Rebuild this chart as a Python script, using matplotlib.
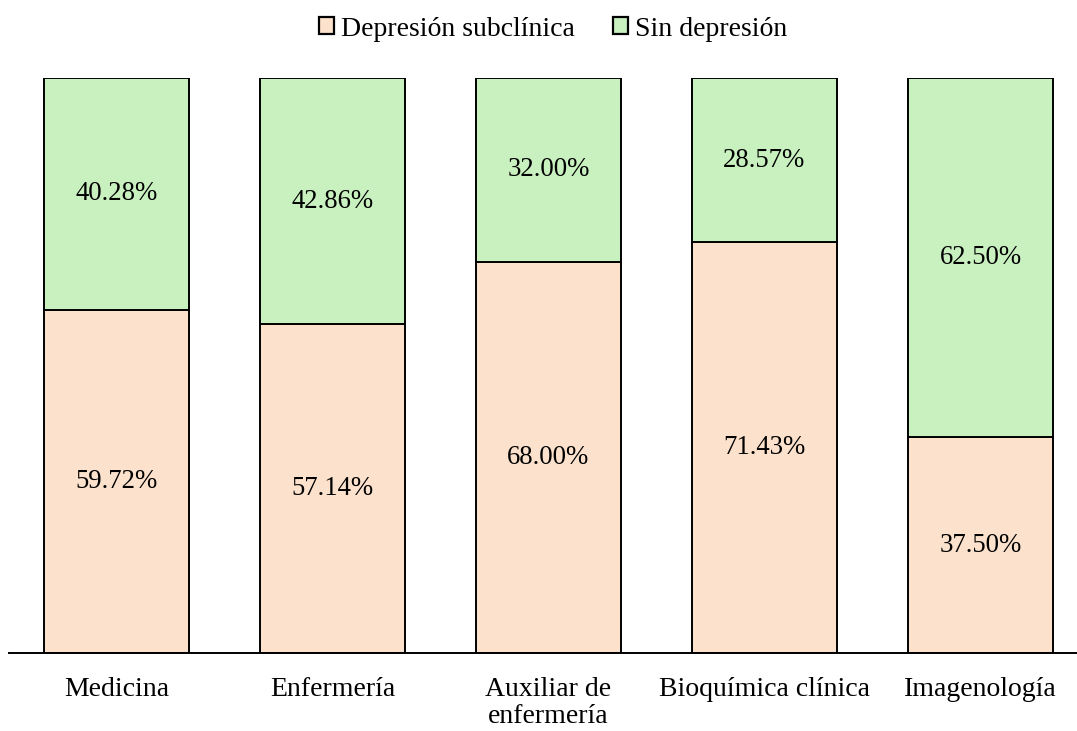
import matplotlib
matplotlib.use("Agg")
import matplotlib.pyplot as plt
from matplotlib.patches import Patch

plt.rcParams['font.family'] = ['Liberation Serif', 'DejaVu Serif']

categories = ["Medicina", "Enfermería", "Auxiliar de\nenfermería", "Bioquímica clínica", "Imagenología"]
subclinica = [59.72, 57.14, 68.00, 71.43, 37.50]
sin_depresion = [40.28, 42.86, 32.00, 28.57, 62.50]
series_names = ["Depresión subclínica", "Sin depresión"]
colors = ["#FCE2CC", "#C9F1C0"]

fig = plt.figure(figsize=(10.77, 7.31), dpi=100)
W, H = 1077, 731
ax = fig.add_axes([9 / W, (H - 653) / H, (W - 9) / W, (653 - 78) / H])

x = list(range(len(categories)))
ax.bar(x, subclinica, width=0.67, color=colors[0], edgecolor="black", linewidth=1.4)
ax.bar(x, sin_depresion, width=0.67, bottom=subclinica, color=colors[1], edgecolor="black", linewidth=1.4)

for xi, v1, v2 in zip(x, subclinica, sin_depresion):
    ax.text(xi, v1 / 2, f"{v1:.2f}%", ha="center", va="center", fontsize=19.3)
    ax.text(xi, v1 + v2 / 2, f"{v2:.2f}%", ha="center", va="center", fontsize=19.3)

spacing = 216.0
left_px, c0 = 9, 116.5
ax.set_xlim((left_px - c0) / spacing, (W - c0) / spacing)
ax.set_ylim(0, 100)
ax.set_xticks(x)
ax.set_xticklabels(categories, fontsize=20, linespacing=1.1)
ax.tick_params(axis="x", length=0, pad=17)
ax.set_yticks([])
for s in ["top", "right", "left"]:
    ax.spines[s].set_visible(False)
ax.spines["bottom"].set_linewidth(1.4)

handles = [Patch(facecolor=c, edgecolor="black", linewidth=1.6) for c in colors]
fig.legend(handles, series_names, loc="center", bbox_to_anchor=(553 / W, 1 - 29 / H),
           ncol=2, frameon=False, fontsize=20, handlelength=0.55, handleheight=0.55,
           handletextpad=0.25, columnspacing=1.37, borderpad=0)

fig.savefig("out.png", dpi=100)
